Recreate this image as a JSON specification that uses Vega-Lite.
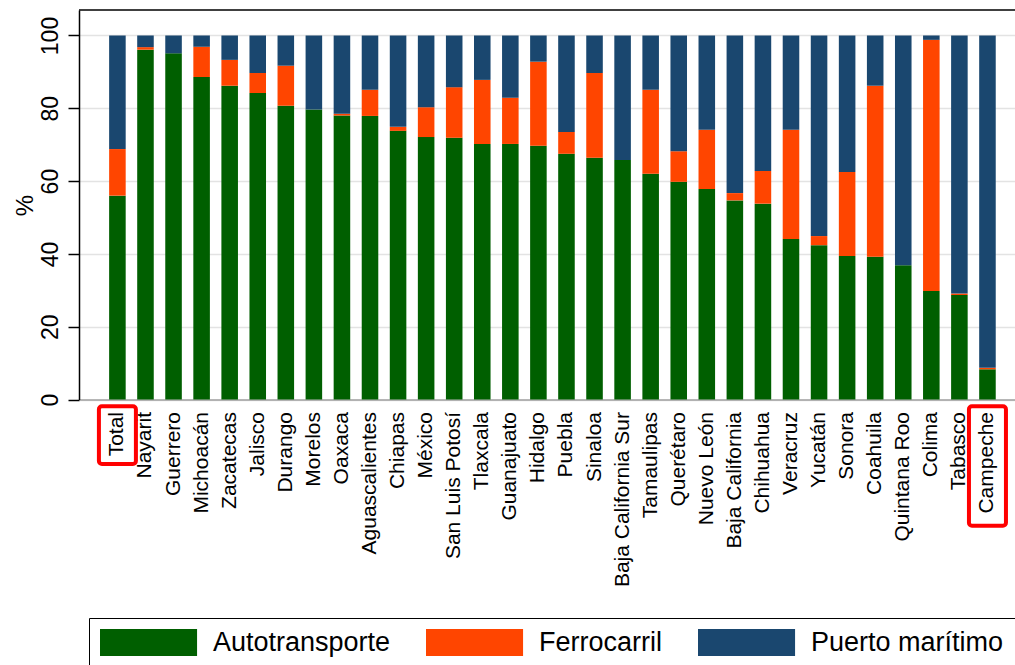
{
  "$schema": "https://vega.github.io/schema/vega-lite/v6.json",
  "width": 936,
  "height": 389.5,
  "autosize": "none",
  "padding": {"left": 79, "top": 10, "right": 0, "bottom": 265.5},
  "config": {
    "font": "Liberation Sans",
    "view": {"stroke": null},
    "axis": {"labelColor": "#000000", "titleColor": "#000000", "labelFont": "Liberation Sans", "titleFont": "Liberation Sans", "titleFontWeight": "normal"},
    "axisY": {
      "labelAngle": 270, "labelAlign": "center", "labelBaseline": "alphabetic",
      "labelFontSize": 23, "labelPadding": 11, "tickSize": 11, "tickColor": "#000000", "tickWidth": 1.5,
      "domainColor": "#000000", "domainWidth": 1.5, "gridColor": "#e3e3e3", "gridWidth": 1.5,
      "titleFontSize": 24, "titleAngle": 270, "titleAlign": "center", "titleBaseline": "alphabetic",
      "titleX": -47, "titleY": 195
    },
    "axisX": {
      "labelAngle": 270, "labelAlign": "right", "labelBaseline": "middle",
      "labelFontSize": 21, "labelPadding": 12, "ticks": false, "domainColor": "#a0a0a0", "domainWidth": 1.5,
      "grid": false, "labelLimit": 0
    }
  },
  "datasets": {
    "modos": [
      {"estado": "Total", "Autotransporte": 56.0, "Ferrocarril": 12.8, "Puerto marítimo": 31.2},
      {"estado": "Nayarit", "Autotransporte": 96.1, "Ferrocarril": 0.7, "Puerto marítimo": 3.2},
      {"estado": "Guerrero", "Autotransporte": 95.1, "Ferrocarril": 0.0, "Puerto marítimo": 4.9},
      {"estado": "Michoacán", "Autotransporte": 88.6, "Ferrocarril": 8.3, "Puerto marítimo": 3.1},
      {"estado": "Zacatecas", "Autotransporte": 86.2, "Ferrocarril": 7.1, "Puerto marítimo": 6.7},
      {"estado": "Jalisco", "Autotransporte": 84.2, "Ferrocarril": 5.5, "Puerto marítimo": 10.3},
      {"estado": "Durango", "Autotransporte": 80.7, "Ferrocarril": 11.0, "Puerto marítimo": 8.3},
      {"estado": "Morelos", "Autotransporte": 79.7, "Ferrocarril": 0.0, "Puerto marítimo": 20.3},
      {"estado": "Oaxaca", "Autotransporte": 78.0, "Ferrocarril": 0.5, "Puerto marítimo": 21.5},
      {"estado": "Aguascalientes", "Autotransporte": 77.9, "Ferrocarril": 7.2, "Puerto marítimo": 14.9},
      {"estado": "Chiapas", "Autotransporte": 73.8, "Ferrocarril": 1.1, "Puerto marítimo": 25.1},
      {"estado": "México", "Autotransporte": 72.1, "Ferrocarril": 8.2, "Puerto marítimo": 19.7},
      {"estado": "San Luis Potosí", "Autotransporte": 71.9, "Ferrocarril": 13.9, "Puerto marítimo": 14.2},
      {"estado": "Tlaxcala", "Autotransporte": 70.2, "Ferrocarril": 17.6, "Puerto marítimo": 12.2},
      {"estado": "Guanajuato", "Autotransporte": 70.2, "Ferrocarril": 12.7, "Puerto marítimo": 17.1},
      {"estado": "Hidalgo", "Autotransporte": 69.7, "Ferrocarril": 23.1, "Puerto marítimo": 7.2},
      {"estado": "Puebla", "Autotransporte": 67.5, "Ferrocarril": 6.0, "Puerto marítimo": 26.5},
      {"estado": "Sinaloa", "Autotransporte": 66.4, "Ferrocarril": 23.3, "Puerto marítimo": 10.3},
      {"estado": "Baja California Sur", "Autotransporte": 65.8, "Ferrocarril": 0.0, "Puerto marítimo": 34.2},
      {"estado": "Tamaulipas", "Autotransporte": 62.0, "Ferrocarril": 23.1, "Puerto marítimo": 14.9},
      {"estado": "Querétaro", "Autotransporte": 59.8, "Ferrocarril": 8.4, "Puerto marítimo": 31.8},
      {"estado": "Nuevo León", "Autotransporte": 57.8, "Ferrocarril": 16.3, "Puerto marítimo": 25.9},
      {"estado": "Baja California", "Autotransporte": 54.7, "Ferrocarril": 2.0, "Puerto marítimo": 43.3},
      {"estado": "Chihuahua", "Autotransporte": 53.8, "Ferrocarril": 9.0, "Puerto marítimo": 37.2},
      {"estado": "Veracruz", "Autotransporte": 44.1, "Ferrocarril": 30.0, "Puerto marítimo": 25.9},
      {"estado": "Yucatán", "Autotransporte": 42.4, "Ferrocarril": 2.5, "Puerto marítimo": 55.1},
      {"estado": "Sonora", "Autotransporte": 39.4, "Ferrocarril": 23.1, "Puerto marítimo": 37.5},
      {"estado": "Coahuila", "Autotransporte": 39.2, "Ferrocarril": 47.0, "Puerto marítimo": 13.8},
      {"estado": "Quintana Roo", "Autotransporte": 36.9, "Ferrocarril": 0.0, "Puerto marítimo": 63.1},
      {"estado": "Colima", "Autotransporte": 29.8, "Ferrocarril": 69.0, "Puerto marítimo": 1.2},
      {"estado": "Tabasco", "Autotransporte": 28.7, "Ferrocarril": 0.4, "Puerto marítimo": 70.9},
      {"estado": "Campeche", "Autotransporte": 8.3, "Ferrocarril": 0.4, "Puerto marítimo": 91.3}
    ]
  },
  "layer": [
    {
      "data": {"name": "modos"},
      "transform": [{"fold": ["Autotransporte", "Ferrocarril", "Puerto marítimo"], "as": ["modo", "pct"]}],
      "mark": {"type": "bar"},
      "encoding": {
        "x": {"field": "estado", "type": "nominal", "sort": null, "title": null,
              "scale": {"paddingInner": 0.41, "paddingOuter": 0.88, "align": 0.61}},
        "y": {"field": "pct", "type": "quantitative", "stack": "zero", "title": "%",
              "scale": {"domain": [0, 107], "nice": false, "zero": true},
              "axis": {"values": [0, 20, 40, 60, 80, 100]}},
        "color": {"field": "modo", "type": "nominal",
                  "scale": {"domain": ["Autotransporte", "Ferrocarril", "Puerto marítimo"], "range": ["#005f00", "#ff4500", "#1a476f"]},
                  "legend": {"orient": "none", "legendX": 10, "legendY": 608, "direction": "horizontal", "title": null,
                             "symbolType": "M-1,-1H6.19V1H-1Z", "symbolSize": 729, "symbolStrokeWidth": 0, "symbolOpacity": 1,
                             "labelFontSize": 27, "labelOffset": 86, "labelColor": "#000000", "labelFont": "Liberation Sans", "labelLimit": 0,
                             "columnPadding": 35, "padding": 11, "strokeColor": "#000000"}},
        "order": {"field": "modo", "type": "nominal", "sort": "ascending"}
      }
    },
    {
      "data": {"values": [{}]},
      "mark": {"type": "rule", "color": "#000000", "strokeWidth": 1.5},
      "encoding": {"y": {"datum": 107, "type": "quantitative", "title": "%"}}
    },
    {
      "data": {"values": [{"estado": "Total"}]},
      "mark": {"type": "bar", "width": 37, "fill": "#ffffff", "fillOpacity": 0, "stroke": "#ff0000", "strokeWidth": 4, "cornerRadius": 3},
      "encoding": {
        "x": {"field": "estado", "type": "nominal", "sort": null, "title": null},
        "y": {"datum": -1.85, "type": "quantitative", "title": "%"},
        "y2": {"datum": -17.7}
      }
    },
    {
      "data": {"values": [{"estado": "Campeche"}]},
      "mark": {"type": "bar", "width": 37, "fill": "#ffffff", "fillOpacity": 0, "stroke": "#ff0000", "strokeWidth": 4, "cornerRadius": 3},
      "encoding": {
        "x": {"field": "estado", "type": "nominal", "sort": null, "title": null},
        "y": {"datum": -1.85, "type": "quantitative", "title": "%"},
        "y2": {"datum": -34.7}
      }
    }
  ]
}
